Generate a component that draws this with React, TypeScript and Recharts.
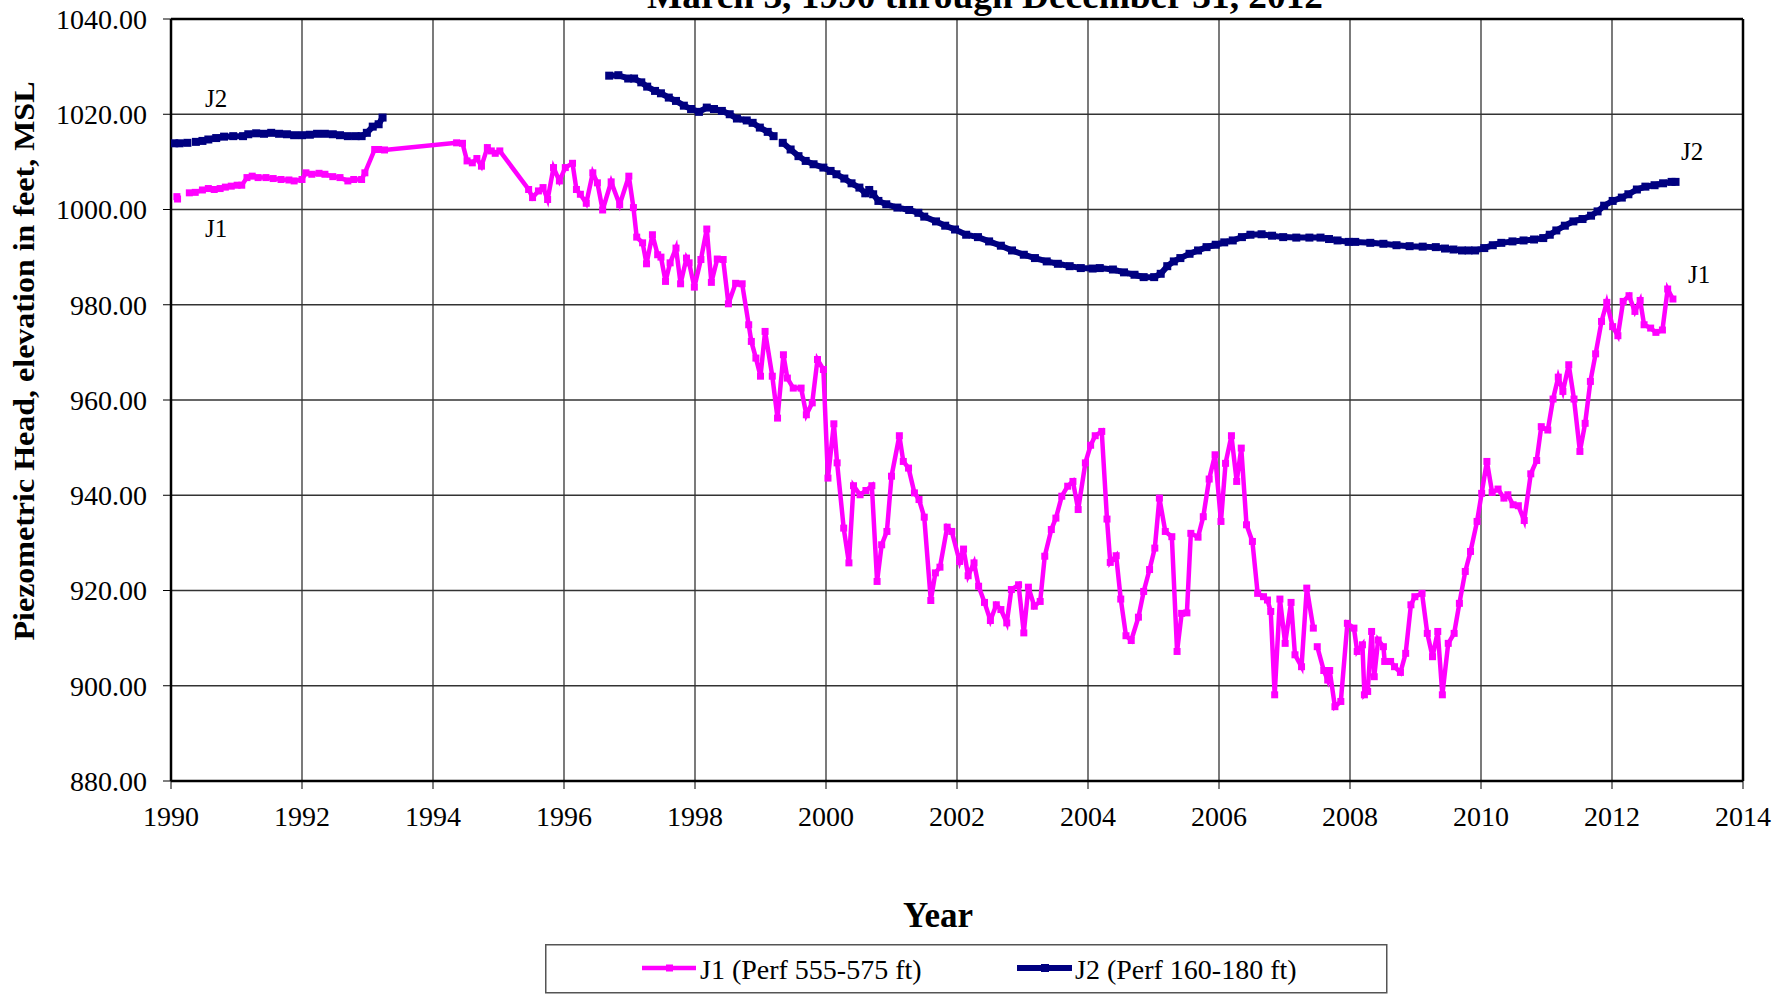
import React from 'react';
import { LineChart, Line, XAxis, YAxis, CartesianGrid, ReferenceLine, Legend, Customized } from 'recharts';

const FONT = "'Liberation Serif', 'Times New Roman', serif";

const xTicks = [1990, 1992, 1994, 1996, 1998, 2000, 2002, 2004, 2006, 2008, 2010, 2012, 2014];
const yTicks = [880, 900, 920, 940, 960, 980, 1000, 1020, 1040];

const j1Years = [
  1990.09, 1990.10, 1990.19, 1990.28, 1990.37, 1990.48, 1990.57, 1990.66, 1990.75, 1990.83, 1990.92,
  1991.01, 1991.08, 1991.16, 1991.24, 1991.33, 1991.45, 1991.56, 1991.68, 1991.80, 1991.88,
  1992.00, 1992.06, 1992.15, 1992.26, 1992.35, 1992.47, 1992.58, 1992.70, 1992.79, 1992.91, 1992.96,
  1993.11, 1993.17, 1993.26, 1994.36, 1994.45, 1994.52, 1994.60, 1994.67, 1994.74, 1994.83, 1994.89, 1994.95,
  1995.02, 1995.46, 1995.52, 1995.61, 1995.68, 1995.75, 1995.84, 1995.93,
  1996.02, 1996.13, 1996.19, 1996.25, 1996.34, 1996.44, 1996.51, 1996.59, 1996.72, 1996.85, 1996.99,
  1997.06, 1997.11, 1997.20, 1997.26, 1997.35, 1997.43, 1997.48, 1997.55, 1997.62, 1997.71, 1997.78, 1997.87, 1997.91, 1997.99,
  1998.09, 1998.18, 1998.25, 1998.34, 1998.43, 1998.51, 1998.62, 1998.72, 1998.82, 1998.86, 1998.93,
  1999.00, 1999.07, 1999.18, 1999.26, 1999.35, 1999.41, 1999.50, 1999.62, 1999.70, 1999.79, 1999.87, 1999.96,
  2000.03, 2000.12, 2000.17, 2000.27, 2000.35, 2000.42, 2000.52, 2000.61, 2000.70, 2000.78, 2000.85, 2000.93,
  2001.00, 2001.12, 2001.18, 2001.26, 2001.35, 2001.42, 2001.50, 2001.60, 2001.67, 2001.74, 2001.85, 2001.92,
  2002.04, 2002.10, 2002.17, 2002.26, 2002.33, 2002.42, 2002.51, 2002.60, 2002.67, 2002.76, 2002.83, 2002.94,
  2003.02, 2003.09, 2003.18, 2003.27, 2003.34, 2003.44, 2003.51, 2003.60, 2003.69, 2003.77, 2003.85, 2003.96,
  2004.04, 2004.11, 2004.21, 2004.29, 2004.34, 2004.43, 2004.50, 2004.58, 2004.66, 2004.77, 2004.85, 2004.94,
  2005.02, 2005.09, 2005.18, 2005.28, 2005.36, 2005.43, 2005.51, 2005.57, 2005.68, 2005.76, 2005.85, 2005.94,
  2006.03, 2006.10, 2006.19, 2006.27, 2006.34, 2006.42, 2006.51, 2006.59, 2006.68, 2006.74, 2006.79, 2006.85, 2006.93,
  2007.01, 2007.10, 2007.16, 2007.26, 2007.34, 2007.44, 2007.47, 2007.50, 2007.60, 2007.66, 2007.69, 2007.77, 2007.86, 2007.96,
  2008.06, 2008.11, 2008.19, 2008.22, 2008.27, 2008.33, 2008.37, 2008.43, 2008.51, 2008.53, 2008.62, 2008.68, 2008.77, 2008.85, 2008.93, 2008.99,
  2009.10, 2009.18, 2009.26, 2009.34, 2009.41, 2009.50, 2009.59, 2009.67, 2009.76, 2009.84, 2009.94,
  2010.01, 2010.09, 2010.17, 2010.26, 2010.35, 2010.41, 2010.49, 2010.57, 2010.66, 2010.76, 2010.85, 2010.92,
  2011.02, 2011.10, 2011.18, 2011.25, 2011.34, 2011.42, 2011.51, 2011.59, 2011.67, 2011.75, 2011.84, 2011.92,
  2012.01, 2012.09, 2012.17, 2012.26, 2012.35, 2012.43, 2012.49, 2012.59, 2012.67, 2012.77, 2012.85, 2012.93,
];

const j1Values = [
  1002.7, 1002.2, null, 1003.5, 1003.6, 1004.1, 1004.4, 1004.2, 1004.4, 1004.7, 1004.9,
  1005.1, 1005.1, 1006.7, 1007.0, 1006.7, 1006.7, 1006.5, 1006.3, 1006.2, 1006.0,
  1006.3, 1007.7, 1007.4, 1007.6, 1007.4, 1006.9, 1006.7, 1006.0, 1006.3, 1006.3, 1007.7,
  1012.6, 1012.6, 1012.5, 1014.0, 1013.9, 1010.2, 1009.8, 1010.7, 1009.1, 1013.0, 1012.3, 1011.8,
  1012.3, 1004.2, 1002.5, 1003.9, 1004.6, 1002.1, 1008.8, 1006.0,
  1008.8, 1009.7, 1004.2, 1003.2, 1001.3, 1007.7, 1005.6, 999.9, 1005.8, 1001.0, 1007.0,
  1000.4, 994.2, 993.0, 988.6, 994.7, 990.5, 990.0, 984.9, 988.8, 991.9, 984.4, 989.8, 988.8, 983.7,
  989.5, 995.9, 984.7, 989.6, 989.5, 980.2, 984.5, 984.4, 975.8, 972.3, 968.8,
  965.0, 974.4, 965.0, 956.2, 969.5, 964.6, 962.5, 962.5, 956.9, 959.4, 968.5, 966.4,
  943.6, 955.0, 946.8, 933.1, 925.8, 942.0, 940.1, 941.0, 942.0, 921.9, 929.6, 932.4,
  944.0, 952.5, 947.1, 945.7, 940.5, 939.1, 935.4, 917.9, 923.7, 924.9, 933.3, 932.4,
  926.1, 928.7, 923.1, 925.8, 920.9, 917.5, 913.7, 917.0, 916.0, 913.2, 920.2, 921.2,
  911.1, 920.7, 916.7, 917.7, 927.2, 932.8, 935.2, 939.8, 941.9, 942.9, 937.0, 946.8,
  950.5, 952.5, 953.4, 935.0, 925.9, 927.3, 918.2, 910.5, 909.5, 914.4, 919.8, 924.4,
  928.9, 939.4, 932.4, 931.3, 907.2, 915.2, 915.3, 932.0, 931.2, 935.5, 943.4, 948.5,
  934.5, 946.7, 952.5, 942.9, 949.9, 933.8, 930.3, 919.4, 918.7, 918.0, 915.6, 898.1, 918.2,
  908.9, 917.5, 906.5, 904.0, 920.5, 912.1, null, 908.2, 903.2, 901.2, 903.2, 895.6, 896.7, 913.1,
  912.1, 907.2, 908.6, 898.1, 898.8, 911.4, 901.9, 909.6, 908.2, 905.1, 905.1, 904.0, 902.8, 906.8, 917.0, 918.7,
  919.4, 911.0, 906.1, 911.4, 898.1, 908.9, 911.0, 917.3, 924.0, 928.2, 934.5,
  940.4, 947.1, 940.6, 941.3, 939.4, 940.1, 938.0, 937.8, 934.7, 944.5, 947.3, 954.4,
  953.7, 960.2, 964.8, 961.8, 967.4, 960.2, 949.2, 955.1, 963.9, 969.7, 976.5, 980.5,
  975.4, 973.5, 980.7, 981.9, 978.6, 980.9, 975.8, 975.1, 974.2, 974.7, 983.3, 981.2,
];

const j2Years = [
  1990.05, 1990.13, 1990.25, 1990.31, 1990.38, 1990.48, 1990.57, 1990.69, 1990.81, 1990.95,
  1991.10, 1991.18, 1991.30, 1991.42, 1991.53, 1991.65, 1991.77, 1991.88,
  1992.00, 1992.12, 1992.23, 1992.35, 1992.47, 1992.58, 1992.70, 1992.82, 1992.91, 1992.99,
  1993.08, 1993.17, 1993.23, 1995.00,
  1996.69, 1996.83, 1996.98, 1997.07, 1997.18, 1997.27, 1997.39, 1997.48, 1997.60, 1997.71, 1997.83, 1997.94,
  1998.06, 1998.18, 1998.29, 1998.41, 1998.53, 1998.64, 1998.79, 1998.88, 1998.99,
  1999.11, 1999.20, 1999.27, 1999.34, 1999.46, 1999.58, 1999.69, 1999.81, 1999.96,
  2000.07, 2000.16, 2000.28, 2000.39, 2000.51, 2000.60, 2000.66, 2000.72, 2000.80, 2000.92,
  2001.09, 2001.27, 2001.41, 2001.50, 2001.68, 2001.82, 2001.97,
  2002.14, 2002.32, 2002.49, 2002.67, 2002.84,
  2003.02, 2003.19, 2003.37, 2003.54, 2003.72, 2003.89,
  2004.07, 2004.18, 2004.38, 2004.55, 2004.71, 2004.85,
  2005.01, 2005.11, 2005.21, 2005.31, 2005.41, 2005.55, 2005.68, 2005.81, 2005.95,
  2006.08, 2006.21, 2006.35, 2006.48, 2006.65, 2006.81, 2006.98,
  2007.18, 2007.38, 2007.55, 2007.68, 2007.81, 2007.98, 2008.03,
  2008.08, 2008.31, 2008.51, 2008.71, 2008.91,
  2009.11, 2009.31, 2009.45, 2009.58, 2009.71, 2009.81, 2009.86, 2009.91,
  2010.05, 2010.18, 2010.31, 2010.48, 2010.65, 2010.81, 2010.95,
  2011.05, 2011.15, 2011.28, 2011.41, 2011.55, 2011.68, 2011.78, 2011.88,
  2012.01, 2012.15, 2012.25, 2012.38, 2012.51, 2012.65, 2012.78, 2012.91, 2012.97,
];

const j2Values = [
  1013.9, 1013.9, 1014.0, null, 1014.2, 1014.4, 1014.7, 1015.0, 1015.3, 1015.4,
  1015.4, 1015.8, 1016.0, 1015.9, 1016.1, 1015.9, 1015.8, 1015.6,
  1015.6, 1015.7, 1015.9, 1015.9, 1015.8, 1015.6, 1015.4, 1015.4, 1015.4, 1016.1,
  1017.4, 1017.9, 1019.3, null,
  1028.1, 1028.2, 1027.5, 1027.5, 1026.7, 1025.8, 1024.9, 1024.4, 1023.5, 1022.8, 1021.8, 1021.1,
  1020.5, 1021.4, 1021.1, 1020.7, 1020.0, 1019.1, 1018.7, 1018.2, 1017.2,
  1016.3, 1015.4, null, 1014.0, 1012.6, 1011.2, 1010.2, 1009.5, 1008.8,
  1008.1, 1007.4, 1006.5, 1005.5, 1004.6, 1003.4, 1004.1, 1003.2, 1001.8, 1001.1,
  1000.4, 999.9, 999.3, 998.5, 997.5, 996.6, 995.8,
  994.7, 994.2, 993.3, 992.4, 991.4,
  990.5, 989.8, 989.1, 988.6, 988.1, 987.7,
  987.6, 987.7, 987.4, 986.8, 986.3, 985.8,
  985.8, 986.5, 988.1, 989.1, 989.8, 990.7, 991.4, 992.1, 992.6,
  993.1, 993.5, 994.2, 994.7, 994.8, 994.5, 994.2,
  994.1, 994.1, 994.1, 993.8, 993.5, 993.2, null,
  993.2, 993.0, 992.8, 992.5, 992.3,
  992.2, 992.1, 991.8, 991.6, 991.4, 991.4, null, 991.4,
  991.9, 992.5, 993.0, 993.3, 993.5, 993.7, 994.0,
  994.7, 995.6, 996.6, 997.5, 998.0, 998.7, 999.6, 1000.8,
  1001.8, 1002.5, 1003.2, 1004.2, 1004.8, 1005.1, 1005.5, 1005.8, 1005.8,
];

const J1_COLOR = '#FF00FF';
const J2_COLOR = '#000080';

const j1Data = j1Years.map((year, i) => ({ year, value: j1Values[i] }));
const j2Data = j2Years.map((year, i) => ({ year, value: j2Values[i] }));

const makeDot = (color: string, size: number) => (props: any) => {
  const { cx, cy, index, value } = props;
  if (cx == null || cy == null || value == null || Number.isNaN(cy)) {
    return <g key={`d-${index}`} />;
  }
  return (
    <rect key={`d-${index}`} x={cx - size / 2} y={cy - size / 2} width={size} height={size} fill={color} stroke="none" />
  );
};

const Annotations = () => (
  <g fontFamily={FONT} fill="#000">
    <text x={985} y={8} textAnchor="middle" fontSize={35} fontWeight="bold" textLength={676} lengthAdjust="spacingAndGlyphs">
      March 3, 1990 through December 31, 2012
    </text>
    <text
      transform="translate(34, 361) rotate(-90)"
      textAnchor="middle"
      fontSize={30}
      fontWeight="bold"
      textLength={559}
      lengthAdjust="spacingAndGlyphs"
    >
      Piezometric Head, elevation in feet, MSL
    </text>
    <text x={938} y={927} textAnchor="middle" fontSize={35} fontWeight="bold">Year</text>
    <text x={205} y={107} fontSize={25}>J2</text>
    <text x={205} y={237} fontSize={25}>J1</text>
    <text x={1681} y={160} fontSize={25}>J2</text>
    <text x={1688} y={283} fontSize={25}>J1</text>
  </g>
);

const LegendBox = () => (
  <svg width={843} height={50} style={{ display: 'block', overflow: 'visible' }}>
    <rect x={0.75} y={0.75} width={841} height={48} fill="#fff" stroke="#555" strokeWidth={1.5} />
    <line x1={97} y1={24} x2={151} y2={24} stroke={J1_COLOR} strokeWidth={4.5} />
    <rect x={121} y={20.5} width={7} height={7} fill={J1_COLOR} />
    <text x={155} y={35} fontFamily={FONT} fontSize={28} fill="#000">J1 (Perf 555-575 ft)</text>
    <line x1={472} y1={24} x2={527} y2={24} stroke={J2_COLOR} strokeWidth={6} />
    <rect x={496} y={20} width={8} height={8} fill={J2_COLOR} />
    <text x={530} y={35} fontFamily={FONT} fontSize={28} fill="#000">J2 (Perf 160-180 ft)</text>
  </svg>
);

export default function App() {
  return (
    <div style={{ position: 'absolute', left: 0, top: 0, width: 1785, height: 997, background: '#fff' }}>
      <LineChart width={1785} height={997} margin={{ top: 19, right: 42, left: 0, bottom: 0 }}>
        <CartesianGrid stroke="#333" strokeWidth={1.3} />
        <XAxis
          dataKey="year"
          type="number"
          domain={[1990, 2014]}
          ticks={xTicks}
          allowDataOverflow
          height={216}
          tickSize={8}
          tickMargin={17}
          axisLine={{ stroke: '#000', strokeWidth: 2.5 }}
          tickLine={{ stroke: '#000', strokeWidth: 1 }}
          tick={{ fill: '#000', fontSize: 28, fontFamily: FONT }}
        />
        <YAxis
          type="number"
          domain={[880, 1040]}
          ticks={yTicks}
          allowDataOverflow
          width={171}
          tickSize={8}
          tickMargin={16}
          tickFormatter={(v: number) => v.toFixed(2)}
          axisLine={{ stroke: '#000', strokeWidth: 2.5 }}
          tickLine={{ stroke: '#000', strokeWidth: 1 }}
          tick={{ fill: '#000', fontSize: 28, fontFamily: FONT }}
        />
        <ReferenceLine y={1040} stroke="#000" strokeWidth={2.5} />
        <ReferenceLine x={2014} stroke="#000" strokeWidth={2.5} />
        <Line
          data={j1Data}
          dataKey="value"
          name="J1 (Perf 555-575 ft)"
          type="linear"
          stroke={J1_COLOR}
          strokeWidth={4.5}
          dot={makeDot(J1_COLOR, 7)}
          activeDot={false}
          connectNulls={false}
          isAnimationActive={false}
        />
        <Line
          data={j2Data}
          dataKey="value"
          name="J2 (Perf 160-180 ft)"
          type="linear"
          stroke={J2_COLOR}
          strokeWidth={6}
          dot={makeDot(J2_COLOR, 8)}
          activeDot={false}
          connectNulls={false}
          isAnimationActive={false}
        />
        <Legend
          layout="horizontal"
          verticalAlign="middle"
          align="center"
          content={() => <LegendBox />}
          wrapperStyle={{ position: 'absolute', left: 545, top: 944, width: 843, height: 50 }}
        />
        <Customized component={<Annotations />} />
      </LineChart>
    </div>
  );
}
